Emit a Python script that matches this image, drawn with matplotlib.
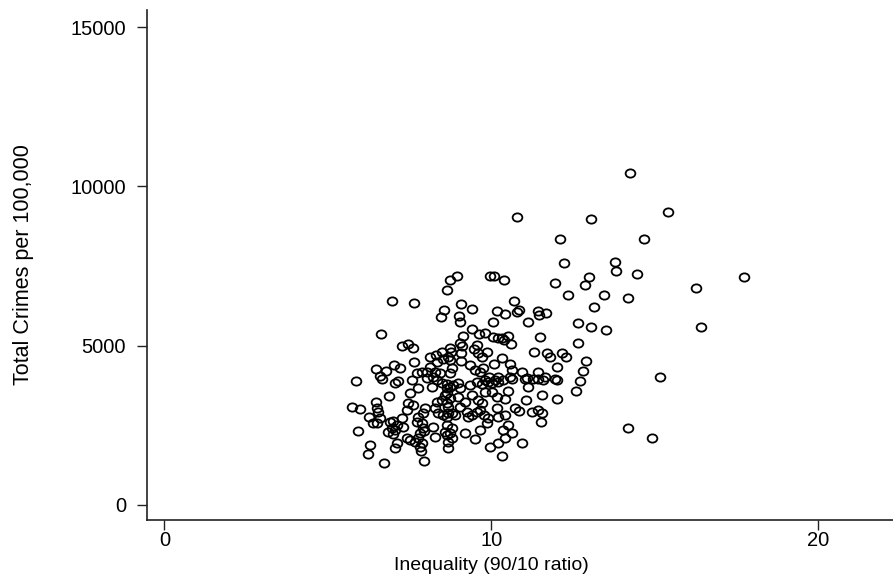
import matplotlib
matplotlib.use("Agg")
import matplotlib.pyplot as plt
from matplotlib.path import Path
from matplotlib.transforms import Affine2D

# Inequality (90/10 ratio) and total crimes per 100,000, one pair per unit
ineq = [
    # upper, sparse part
    14.23, 10.78, 13.04, 15.40, 12.09, 14.66, 12.22, 13.78, 13.81, 14.45,
    12.98, 12.86, 11.94, 12.34, 13.44, 14.17, 16.25, 17.72, 8.94, 8.73,
    8.64, 9.95, 10.08, 10.38,
    # left part, 4000-6500
    6.96, 7.63, 6.62, 7.26, 7.45, 7.60, 7.63, 6.47, 6.77, 7.02,
    7.20, 8.46, 8.55, 8.12, 8.30, 8.49, 8.33, 8.52, 8.12, 7.87,
    7.72, 8.03, 8.27, 8.43, 8.21,
    # left part, below 4000
    5.86, 6.59, 6.65, 7.05, 7.14, 7.57, 7.75, 7.51, 6.86, 6.47,
    5.73, 5.98, 6.50, 6.53, 6.25, 6.38, 6.50, 6.59, 5.92, 6.90,
    6.99, 7.11, 7.26, 7.29, 6.96, 6.83, 7.05, 6.99, 7.45, 7.60,
    7.42, 7.75, 7.91, 7.97, 7.72, 7.87, 7.91, 7.81, 7.94, 8.27,
    8.21, 8.27, 8.33, 8.49, 8.64, 8.36, 8.52, 8.67, 7.42, 7.51,
    7.66, 7.75, 7.87, 7.81, 7.11, 7.05, 6.28, 6.22, 6.71, 7.94,
    7.84, 8.58, 8.64, 8.67, 8.67, 8.18, 8.33, 8.49, 8.64, 8.58,
    8.03,
    # middle/right part, 4000-6500
    9.07, 9.40, 9.01, 9.04, 10.69, 10.17, 10.41, 10.78, 10.84, 11.42,
    11.45, 11.67, 10.05, 11.12, 9.40, 9.62, 9.80, 10.05, 10.20, 10.32,
    10.38, 10.50, 10.60, 9.13, 9.04, 9.10, 11.48, 8.73, 8.76, 8.67,
    8.73, 9.07, 9.07, 9.56, 9.46, 9.59, 9.86, 9.71, 10.32, 10.57,
    10.63, 10.08, 11.30, 11.70, 11.79, 12.16, 12.28, 12.00, 8.79, 8.73,
    9.34, 9.50, 9.65, 9.74, 10.93, 11.42, 9.92, 10.20, 10.57, 11.09,
    11.64, 13.13, 12.64, 13.04, 13.50, 12.64, 12.89, 12.79, 16.41, 12.00,
    12.70, 12.58, 12.00, 15.15, 14.17, 14.91, 11.42,
    # middle part, below 4000
    8.64, 8.73, 8.82, 8.97, 9.04, 9.34, 9.56, 9.71, 9.80, 9.89,
    10.02, 10.11, 10.20, 10.35, 10.63, 11.02, 11.27, 11.12, 11.57, 11.94,
    8.64, 8.73, 8.97, 9.19, 9.40, 9.59, 9.71, 9.80, 10.02, 10.17,
    10.41, 10.50, 11.05, 11.54, 8.67, 8.79, 8.64, 8.88, 9.04, 9.25,
    9.28, 9.40, 9.56, 9.65, 9.77, 9.89, 9.86, 10.17, 10.20, 10.41,
    10.72, 10.84, 11.24, 11.42, 11.54, 11.51, 8.64, 8.79, 8.73, 8.79,
    9.19, 9.50, 9.65, 10.35, 10.50, 10.63, 10.41, 9.95, 10.20, 10.32,
    10.93,
]

crime = [
    10425, 9040, 8980, 9200, 8350, 8350, 7600, 7630, 7350, 7250,
    7160, 6910, 6970, 6590, 6590, 6500, 6810, 7160, 7190, 7070,
    6750, 7190, 7190, 7070,
    6410, 6340, 5370, 4990, 5060, 4930, 4490, 4270, 4210, 4400,
    4300, 5900, 6120, 4650, 4710, 4800, 4490, 4580, 4330, 4180,
    4150, 4180, 4180, 4150, 4020,
    3890, 4050, 3960, 3830, 3890, 3920, 3670, 3520, 3420, 3230,
    3080, 3010, 3050, 2920, 2760, 2580, 2580, 2730, 2320, 2610,
    2640, 2510, 2730, 2450, 2420, 2290, 2360, 2230, 3200, 3140,
    2980, 2760, 2890, 3050, 2610, 2580, 2420, 2260, 2320, 3050,
    2450, 2140, 3230, 3300, 3200, 2890, 2830, 2890, 2100, 2040,
    1980, 2100, 1950, 1820, 1950, 1790, 1880, 1600, 1320, 1380,
    1700, 2290, 2200, 1980, 1790, 3710, 3920, 3830, 3670, 3450,
    3990,
    6310, 6150, 5940, 5750, 6410, 6090, 6000, 6060, 6120, 6090,
    5970, 6030, 5750, 5750, 5530, 5370, 5400, 5280, 5240, 5240,
    5180, 5310, 5060, 5310, 5090, 4990, 5280, 4930, 4800, 4650,
    4550, 4770, 4520, 5020, 4900, 4770, 4800, 4650, 4620, 4430,
    4240, 4430, 4800, 4770, 4650, 4770, 4650, 4330, 4300, 4150,
    4400, 4240, 4180, 4300, 4180, 4180, 4020, 4020, 4020, 3990,
    4020, 6220, 5710, 5590, 5500, 5090, 4520, 4210, 5590, 3930,
    3890, 3580, 3330, 4020, 2420, 2100, 3960,
    3800, 3710, 3770, 3830, 3670, 3770, 3860, 3800, 3920, 3860,
    3830, 3920, 3860, 3920, 3960, 3960, 3960, 3710, 3920, 3960,
    3520, 3360, 3390, 3230, 3450, 3300, 3200, 3550, 3550, 3390,
    3330, 3580, 3300, 3450, 3080, 2890, 2760, 2830, 3080, 2920,
    2760, 2830, 2920, 2980, 2830, 2730, 2580, 3050, 2760, 2830,
    3050, 2950, 2920, 2980, 2890, 2610, 2510, 2420, 2260, 2100,
    2260, 2070, 2360, 2360, 2510, 2260, 2100, 1820, 1950, 1540,
    1950,
]

x_ticks = [0, 10, 20]
y_ticks = [0, 5000, 10000, 15000]

plt.rcParams['font.family'] = ['Liberation Sans', 'DejaVu Sans']

fig = plt.figure(figsize=(8.93, 5.75), dpi=100)
ax = fig.add_axes([0.1646, 0.0957, 0.8354, 0.887])

# Stata draws its hollow circles a little wider than tall
ring = Path.unit_circle().transformed(Affine2D().scale(1.0, 0.85))
ax.plot(ineq, crime, ls='none', marker=ring, ms=7.0, mfc='none',
        mec='black', mew=1.3)

ax.set_xlim(-0.535, 22.28)
ax.set_ylim(-471, 15540)
ax.set_xticks(x_ticks)
ax.set_yticks(y_ticks)

for side in ['top', 'right']:
    ax.spines[side].set_visible(False)
for side in ['left', 'bottom']:
    ax.spines[side].set_linewidth(1.2)
    ax.spines[side].set_color('#222222')

ax.tick_params(axis='y', direction='out', length=7, width=1.0,
               color='#222222', labelsize=14.5, pad=8)
ax.tick_params(axis='x', direction='out', length=7, width=1.0,
               color='#222222', labelsize=14.5, pad=1)

ax.set_xlabel('Inequality (90/10 ratio)', fontsize=14)
ax.set_ylabel('Total Crimes per 100,000', fontsize=15.5)
# title sits under the middle of the data range, not the axes box
ax.xaxis.set_label_coords(0.4618, -0.072)
ax.yaxis.set_label_coords(-0.152, 0.5)

fig.savefig('out.png', dpi=100)
